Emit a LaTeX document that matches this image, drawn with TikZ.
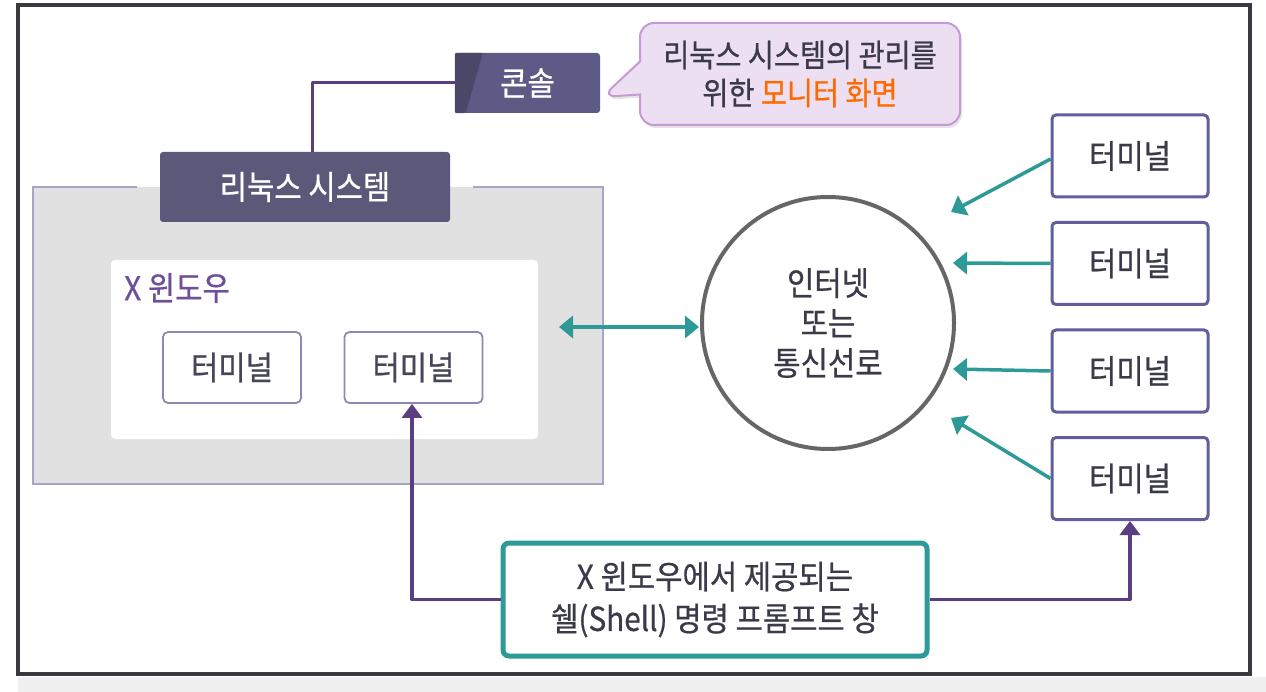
\documentclass[tikz,border=0pt]{standalone}
\usepackage{fontspec}
\newfontfamily\krfont[FakeStretch=0.9,FakeBold=0.6]{Noto Sans CJK KR}
\usetikzlibrary{arrows.meta,positioning,shapes.callouts,shadows}
\definecolor{framegray}{HTML}{3B3940}
\definecolor{boxgray}{HTML}{E1E1E1}
\definecolor{boxline}{HTML}{A9A3C9}
\definecolor{titlefill}{HTML}{5C5879}
\definecolor{consolefill}{HTML}{5D5B85}
\definecolor{consoledark}{HTML}{4A4768}
\definecolor{bubblefill}{HTML}{EDDFF2}
\definecolor{bubbleline}{HTML}{C59AD6}
\definecolor{hiorange}{HTML}{FF6A00}
\definecolor{termline}{HTML}{615E9B}
\definecolor{xtermline}{HTML}{8D88B5}
\definecolor{teal}{HTML}{2E9A97}
\definecolor{linkpurple}{HTML}{5B3D82}
\definecolor{xlabel}{HTML}{6E4F98}
\definecolor{textdark}{HTML}{3A3A48}
\definecolor{netgray}{HTML}{666666}

\begin{document}
\begin{tikzpicture}[x=1pt,y=-1pt]
\tikzset{
  kr/.style={font=\krfont\fontsize{33}{40}\selectfont},
  titlebox/.style={kr,rectangle,rounded corners=3pt,fill=titlefill,text=white,inner sep=0pt},
  rterm/.style={kr,rectangle,rounded corners=4pt,draw=termline,line width=3pt,fill=white,text=textdark,
    minimum width=156pt,minimum height=82pt,inner sep=0pt},
  xterm/.style={kr,rectangle,rounded corners=5pt,draw=xtermline,line width=1.8pt,fill=white,text=textdark!85!xtermline,
    minimum width=138pt,minimum height=71pt,inner sep=0pt},
  tealarrow/.style={draw=teal,line width=3.5pt,-{Triangle[length=14pt,width=22pt]}},
  purplelink/.style={draw=linkpurple,line width=3.5pt,line join=round},
  purplearrow/.style={purplelink,-{Triangle[length=14pt,width=20pt]}}
}
\useasboundingbox (0,0) rectangle (1266,692);
\fill[white] (0,0) rectangle (1266,692);
\fill[black!6] (18,677) rectangle (1266,692);
\draw[framegray,line width=4pt] (18,5) rectangle (1250,674);

% linux system area
\fill[boxgray] (33,187) rectangle (603,484);
\draw[boxline,line width=2pt] (137,187) -- (33,187) -- (33,484) -- (603,484) -- (603,187) -- (473,187);
\node[titlebox,minimum width=290pt,minimum height=70pt] (n_linux) at (305,187) {리눅스 시스템};
\node[rectangle,rounded corners=4pt,fill=white,minimum width=427pt,minimum height=179pt] (n_xwin) at (324.5,349.5) {};
\node[kr,anchor=west,text=xlabel,inner sep=0pt] (n_xlabel) at (124,288) {X 윈도우};
\node[xterm] (n_xterm_a) at (232,367.5) {터미널};
\node[xterm] (n_xterm_b) at (413.5,367.5) {터미널};

% console and its note
\node[titlebox,fill=consolefill,minimum width=145pt,minimum height=60pt] (n_console) at (527.5,83) {콘솔};
\fill[consoledark,rounded corners=2pt] (n_console.north west) -- ([xshift=28pt]n_console.north west)
  -- ([xshift=11pt]n_console.south west) -- (n_console.south west) -- cycle;
\draw[purplelink,line width=3pt] (n_console.west) -| ([xshift=7pt]n_linux.north);
\node[kr,rectangle callout,rounded corners=14pt,fill=bubblefill,draw=bubbleline,line width=2pt,
  drop shadow={opacity=0.2,shadow xshift=2pt,shadow yshift=-3pt},
  callout absolute pointer={(602,97)},callout pointer width=33pt,
  minimum width=320pt,minimum height=102pt,inner sep=0pt,align=center,text=textdark,
  font=\krfont\fontsize{31.5}{38}\selectfont]
  (n_note) at (800,74) {리눅스 시스템의 관리를\\위한 {\color{hiorange}모니터 화면}};

% network
\node[kr,circle,draw=netgray,line width=4pt,minimum size=252pt,inner sep=0pt,align=center,text=textdark]
  (n_net) at (828,323) {인터넷\\또는\\통신선로};
\node[rterm] (n_t1) at (1130,156) {터미널};
\node[rterm] (n_t2) at (1130,263.5) {터미널};
\node[rterm] (n_t3) at (1130,371) {터미널};
\node[rterm] (n_t4) at (1130,478.5) {터미널};
\coordinate (c_t1) at (951,212);
\coordinate (c_t2) at (953,263);
\coordinate (c_t3) at (953,369);
\coordinate (c_t4) at (951,418);
\coordinate (c_xwin) at (559,327);
\coordinate (c_net) at (699,327);
\draw[tealarrow] ([yshift=-3pt]n_t1.west) -- (c_t1);
\draw[tealarrow] (n_t2.west) -- (c_t2);
\draw[tealarrow] (n_t3.west) -- (c_t3);
\draw[tealarrow] (n_t4.west) -- (c_t4);
\draw[tealarrow,{Triangle[length=14pt,width=22pt]}-{Triangle[length=14pt,width=22pt]}] (c_xwin) -- (c_net);

% shell prompt
\node[kr,rectangle,rounded corners=6pt,draw=teal,line width=5pt,fill=white,minimum width=424pt,minimum height=113pt,
  inner sep=0pt,align=center,text=textdark,font=\krfont\fontsize{33}{42}\selectfont]
  (n_shell) at (715,599.5) {X 윈도우에서 제공되는\\쉘(Shell) 명령 프롬프트 창};
\draw[purplearrow] (n_shell.west) -| ([xshift=-1.5pt]n_xterm_b.south);
\draw[purplearrow] (n_shell.east) -| (n_t4.south);
\end{tikzpicture}
\end{document}
